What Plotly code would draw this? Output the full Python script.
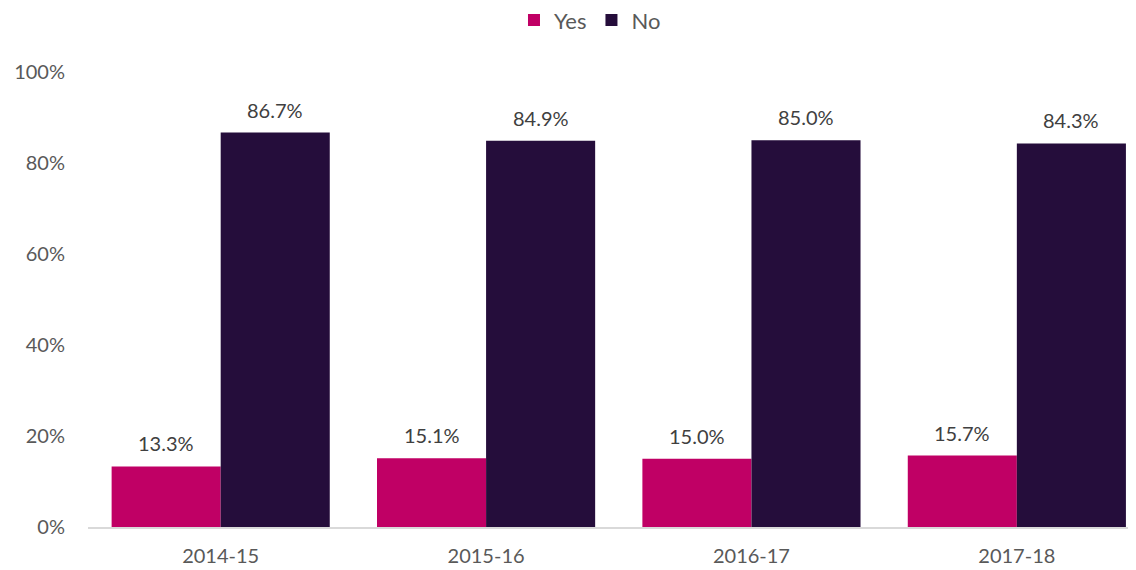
import plotly.graph_objects as go

categories = ["2014-15", "2015-16", "2016-17", "2017-18"]
yes_values = [13.3, 15.1, 15.0, 15.7]
no_values = [86.7, 84.9, 85.0, 84.3]
y_ticks = [0, 20, 40, 60, 80, 100]
y_tick_labels = ["0%", "20%", "40%", "60%", "80%", "100%"]

PINK = "#C00065"
PURPLE = "#250D3B"
FONT = "Lato"

fig = go.Figure()
fig.add_trace(go.Bar(name="Yes", x=categories, y=yes_values, marker_color=PINK,
                     marker_line_width=0))
fig.add_trace(go.Bar(name="No", x=categories, y=no_values, marker_color=PURPLE,
                     marker_line_width=0))

annotations = []
for cat, yv, nv in zip(categories, yes_values, no_values):
    for val, xs in ((yv, -54.5), (nv, 54.5)):
        annotations.append(dict(x=cat, y=val, xref="x", yref="y", text=f"{val:.1f}%",
                                showarrow=False, xshift=xs, yshift=23, yanchor="middle",
                                font=dict(family=FONT, size=20, color="#404040")))

# page body has an 8px default margin; size the figure to fit the 1136x570 window
fig.update_layout(
    width=1128, height=562,
    barmode="group", bargap=0.178, bargroupgap=0,
    plot_bgcolor="white", paper_bgcolor="white",
    margin=dict(l=80, r=0, t=64, b=43, autoexpand=False),
    font=dict(family=FONT, size=20, color="#595959"),
    legend=dict(orientation="h", xref="paper", yref="paper",
                x=0.479, y=1.114, xanchor="center", yanchor="middle",
                font=dict(family=FONT, size=22, color="#595959"),
                itemwidth=30, traceorder="normal"),
    annotations=annotations,
    showlegend=True,
)
fig.update_xaxes(type="category", range=[-0.5, 3.449], showline=True, linecolor="#D9D9D9",
                 linewidth=2, ticks="", showgrid=False, ticklabelstandoff=10,
                 automargin=False,
                 tickfont=dict(family=FONT, size=20, color="#595959"))
fig.update_yaxes(range=[0, 100], tickvals=y_ticks, ticktext=y_tick_labels, showgrid=False,
                 zeroline=False, showline=False, ticks="", ticklabelstandoff=22,
                 automargin=False,
                 tickfont=dict(family=FONT, size=20, color="#595959"))

fig.write_html("out.html")
